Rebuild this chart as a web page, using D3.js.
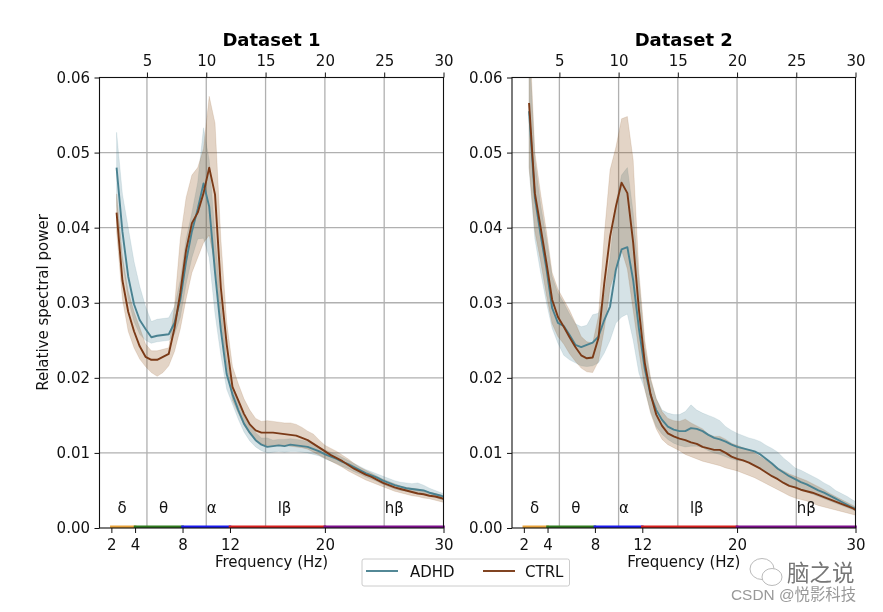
<!DOCTYPE html>
<html><head><meta charset="utf-8">
<script src="https://cdn.jsdelivr.net/npm/d3@7"></script>
<style>html,body{margin:0;padding:0;background:#fff}svg{display:block;font-family:"DejaVu Sans",sans-serif;filter:blur(0.35px)}</style>
</head><body><svg id="c" width="883" height="612"></svg>
<script>
const freqs=[2.44,2.93,3.42,3.91,4.39,4.88,5.37,5.86,6.35,6.84,7.32,7.81,8.30,8.79,9.28,9.77,10.25,10.74,11.23,11.72,12.21,12.70,13.18,13.67,14.16,14.65,15.14,15.63,16.11,16.60,17.09,17.58,18.07,18.55,19.04,19.53,20.02,20.51,21.00,21.48,21.97,22.46,22.95,23.44,23.93,24.41,24.90,25.39,25.88,26.37,26.86,27.34,27.83,28.32,28.81,29.30,29.79,30.27];
const d1AdhdMean=[.0480,.0395,.0335,.0298,.0277,.0265,.0254,.0256,.0257,.0258,.0273,.0304,.0355,.0395,.0425,.0459,.0428,.0340,.0264,.0205,.0178,.0157,.0139,.0127,.0117,.0111,.0108,.0109,.0110,.0109,.0111,.0110,.0109,.0108,.0105,.0102,.0098,.0095,.0092,.0088,.0085,.0081,.0077,.0073,.0070,.0067,.0063,.0060,.0057,.0055,.0053,.0052,.0051,.0050,.0047,.0045,.0043,.0040];
const d1AdhdUpper=[.0527,.0445,.0400,.0355,.0322,.0295,.0275,.0278,.0279,.0280,.0295,.0330,.0385,.0420,.0460,.0533,.0490,.0390,.0300,.0225,.0190,.0170,.0150,.0137,.0127,.0120,.0120,.0117,.0118,.0118,.0119,.0118,.0117,.0115,.0112,.0108,.0104,.0101,.0098,.0094,.0090,.0086,.0082,.0078,.0075,.0072,.0069,.0066,.0063,.0061,.0060,.0059,.0060,.0057,.0053,.0050,.0047,.0044];
const d1AdhdLower=[.0430,.0355,.0305,.0275,.0258,.0250,.0246,.0248,.0249,.0250,.0258,.0280,.0325,.0360,.0385,.0386,.0360,.0285,.0230,.0185,.0165,.0145,.0128,.0116,.0108,.0103,.0100,.0101,.0102,.0101,.0102,.0102,.0101,.0100,.0098,.0096,.0092,.0089,.0086,.0082,.0079,.0075,.0072,.0068,.0065,.0062,.0058,.0055,.0052,.0050,.0049,.0048,.0046,.0045,.0043,.0041,.0038,.0036];
const d1CtrlMean=[.0420,.0330,.0288,.0262,.0242,.0228,.0224,.0224,.0228,.0232,.0266,.0313,.0370,.0406,.0420,.0446,.0480,.0444,.0320,.0245,.0188,.0170,.0152,.0138,.0130,.0127,.0127,.0127,.0126,.0125,.0124,.0123,.0120,.0117,.0112,.0107,.0102,.0097,.0093,.0089,.0084,.0079,.0075,.0071,.0068,.0064,.0060,.0057,.0054,.0052,.0050,.0048,.0046,.0045,.0043,.0042,.0040,.0037];
const d1CtrlUpper=[.0445,.0362,.0315,.0288,.0267,.0245,.0236,.0236,.0238,.0240,.0295,.0385,.0440,.0470,.0480,.0505,.0575,.0539,.0385,.0275,.0215,.0192,.0172,.0157,.0146,.0142,.0143,.0142,.0141,.0140,.0140,.0138,.0134,.0129,.0125,.0117,.0110,.0106,.0102,.0097,.0092,.0086,.0081,.0077,.0073,.0069,.0065,.0062,.0059,.0056,.0054,.0053,.0052,.0050,.0048,.0046,.0044,.0040];
const d1CtrlLower=[.0395,.0305,.0262,.0240,.0225,.0215,.0207,.0202,.0207,.0216,.0235,.0265,.0305,.0340,.0360,.0380,.0390,.0350,.0270,.0215,.0170,.0153,.0137,.0125,.0118,.0112,.0110,.0110,.0110,.0110,.0109,.0108,.0107,.0105,.0101,.0097,.0093,.0089,.0085,.0081,.0076,.0072,.0068,.0064,.0061,.0058,.0055,.0052,.0049,.0047,.0045,.0043,.0042,.0040,.0039,.0037,.0035,.0033];
const d2AdhdMean=[.0555,.0440,.0390,.0345,.0293,.0273,.0269,.0257,.0244,.0241,.0244,.0247,.0255,.0277,.0295,.0344,.0371,.0374,.0330,.0265,.0212,.0177,.0157,.0144,.0135,.0131,.0129,.0129,.0133,.0132,.0129,.0124,.0120,.0118,.0115,.0111,.0108,.0106,.0104,.0102,.0098,.0092,.0086,.0079,.0074,.0069,.0065,.0061,.0058,.0054,.0050,.0047,.0043,.0039,.0035,.0031,.0027,.0024];
const d2AdhdUpper=[.0650,.0490,.0430,.0385,.0335,.0313,.0300,.0285,.0272,.0268,.0270,.0284,.0286,.0310,.0360,.0433,.0470,.0480,.0420,.0330,.0240,.0197,.0172,.0157,.0153,.0151,.0151,.0155,.0164,.0157,.0153,.0150,.0147,.0143,.0135,.0130,.0126,.0123,.0120,.0118,.0115,.0110,.0106,.0101,.0093,.0087,.0080,.0077,.0073,.0069,.0065,.0060,.0056,.0050,.0046,.0042,.0037,.0033];
const d2AdhdLower=[.0480,.0385,.0340,.0300,.0266,.0246,.0230,.0224,.0220,.0216,.0215,.0216,.0220,.0233,.0250,.0273,.0281,.0285,.0250,.0206,.0185,.0155,.0135,.0125,.0118,.0113,.0110,.0108,.0109,.0109,.0107,.0103,.0100,.0098,.0095,.0092,.0090,.0089,.0087,.0083,.0079,.0074,.0070,.0065,.0061,.0056,.0053,.0050,.0048,.0045,.0042,.0039,.0036,.0033,.0030,.0027,.0024,.0021];
const d2CtrlMean=[.0566,.0446,.0400,.0353,.0304,.0281,.0268,.0254,.0241,.0230,.0226,.0227,.0253,.0326,.0388,.0428,.0460,.0446,.0380,.0290,.0220,.0178,.0151,.0136,.0126,.0122,.0119,.0117,.0114,.0112,.0108,.0106,.0104,.0104,.0100,.0095,.0092,.0090,.0087,.0083,.0079,.0074,.0069,.0065,.0060,.0056,.0054,.0051,.0049,.0047,.0044,.0041,.0038,.0035,.0032,.0029,.0026,.0022];
const d2CtrlUpper=[.0670,.0500,.0445,.0395,.0340,.0318,.0304,.0290,.0273,.0255,.0248,.0246,.0282,.0390,.0477,.0507,.0545,.0548,.0490,.0340,.0250,.0200,.0172,.0155,.0146,.0143,.0142,.0145,.0140,.0136,.0132,.0125,.0122,.0122,.0118,.0113,.0110,.0107,.0104,.0100,.0095,.0090,.0085,.0080,.0076,.0072,.0069,.0066,.0063,.0059,.0055,.0051,.0046,.0042,.0038,.0034,.0030,.0026];
const d2CtrlLower=[.0480,.0395,.0355,.0310,.0272,.0255,.0245,.0232,.0222,.0213,.0208,.0207,.0222,.0265,.0320,.0345,.0370,.0345,.0290,.0235,.0185,.0153,.0132,.0118,.0111,.0107,.0103,.0098,.0095,.0092,.0089,.0087,.0085,.0083,.0080,.0078,.0076,.0073,.0070,.0067,.0063,.0059,.0055,.0051,.0047,.0043,.0040,.0038,.0036,.0033,.0030,.0028,.0026,.0024,.0022,.0020,.0018,.0016];
const bandStarts=[2,4,8,12,20];
const bandEnds=[4,8,12,20,30];
const bandColors=["#e8a33a","#2f7a1e","#1a1aee","#d8201f","#7d0f8c"];
const bandLabels=["δ","θ","α","lβ","hβ"];
const bandLabelFreqs=[2.9,6.4,10.45,16.6,25.85];
const topTicks=[5,10,15,20,25,30];
const bottomTicks=[2,4,8,12,20,30];
const yTicks=[0,.01,.02,.03,.04,.05,.06];
const titles=["Dataset 1","Dataset 2"];
const seriesNames=["ADHD","CTRL"];
const seriesColors=["#4a8291","#7b3a17"];
const seriesFills=["#4a8291","#86440a"];
const panelsLeft=[99.5,512];
const panelsRight=[443.5,855.5];

const svg=d3.select("#c");
svg.append("rect").attr("width",883).attr("height",612).attr("fill","#fff");
const panels=[
 [[d1AdhdMean,d1AdhdUpper,d1AdhdLower],[d1CtrlMean,d1CtrlUpper,d1CtrlLower]],
 [[d2AdhdMean,d2AdhdUpper,d2AdhdLower],[d2CtrlMean,d2CtrlUpper,d2CtrlLower]]
];
const plotTop=77.5,plotBottom=528;
const defs=svg.append("defs");
panels.forEach((series,pi)=>{
  const x=d3.scaleLinear().domain([1,30]).range([panelsLeft[pi],panelsRight[pi]]);
  const y=d3.scaleLinear().domain([0,.06]).range([plotBottom,plotTop]);
  const g=svg.append("g");
  const styleAxis=a=>{
    a.selectAll("text").attr("font-size",15).attr("fill","#111").attr("font-family",'"DejaVu Sans"');
    a.selectAll("line").attr("stroke","#111").attr("stroke-width",1);
    a.select(".domain").remove();
  };
  g.append("g").selectAll("line").data(topTicks.slice(0,5)).join("line")
    .attr("x1",d=>x(d)).attr("x2",d=>x(d)).attr("y1",plotTop).attr("y2",plotBottom)
    .attr("stroke","#b0b0b0").attr("stroke-width",1.3);
  g.append("g").selectAll("line").data(yTicks.slice(1,6)).join("line")
    .attr("x1",panelsLeft[pi]).attr("x2",panelsRight[pi]).attr("y1",d=>y(d)).attr("y2",d=>y(d))
    .attr("stroke","#b0b0b0").attr("stroke-width",1.3);
  const cid="clip"+pi;
  defs.append("clipPath").attr("id",cid).append("rect")
    .attr("x",panelsLeft[pi]).attr("y",plotTop).attr("width",panelsRight[pi]-panelsLeft[pi]).attr("height",plotBottom-plotTop);
  const marks=g.append("g").attr("clip-path",`url(#${cid})`);
  series.forEach((s,si)=>{
    const [mean,upper,lower]=s;
    const idx=d3.range(freqs.length);
    const area=d3.area().x(i=>x(freqs[i])).y0(i=>y(lower[i])).y1(i=>y(upper[i]));
    marks.append("path").attr("d",area(idx)).attr("fill",seriesFills[si]).attr("fill-opacity",.23)
      .attr("stroke",seriesFills[si]).attr("stroke-opacity",.12).attr("stroke-width",1);
  });
  series.forEach((s,si)=>{
    const mean=s[0];
    const line=d3.line().x(i=>x(freqs[i])).y(i=>y(mean[i]));
    marks.append("path").attr("d",line(d3.range(freqs.length))).attr("fill","none")
      .attr("stroke",seriesColors[si]).attr("stroke-width",1.9).attr("stroke-linejoin","round");
  });
  g.append("g").selectAll("line").data(d3.range(bandStarts.length)).join("line")
    .attr("x1",i=>x(bandStarts[i])).attr("x2",i=>x(bandEnds[i]))
    .attr("y1",plotBottom-1.2).attr("y2",plotBottom-1.2)
    .attr("stroke",i=>bandColors[i]).attr("stroke-width",2.6).attr("stroke-linecap","square");
  g.append("g").selectAll("text").data(d3.range(bandLabels.length)).join("text")
    .attr("x",i=>x(bandLabelFreqs[i])).attr("y",y(0)-15).attr("text-anchor","middle")
    .attr("font-size",15).attr("fill","#111").text(i=>bandLabels[i]);
  const ax=g.append("g").attr("transform",`translate(0,${plotTop})`)
    .call(d3.axisTop(x).tickValues(topTicks).tickSize(5).tickPadding(7).tickFormat(d3.format("d")));
  styleAxis(ax);
  const bx=g.append("g").attr("transform",`translate(0,${plotBottom})`)
    .call(d3.axisBottom(x).tickValues(bottomTicks).tickSize(5).tickPadding(6).tickFormat(d3.format("d")));
  styleAxis(bx);
  const ly=g.append("g").attr("transform",`translate(${panelsLeft[pi]},0)`)
    .call(d3.axisLeft(y).tickValues(yTicks).tickSize(5).tickPadding(4.5).tickFormat(d3.format(".2f")));
  styleAxis(ly);
  g.append("rect").attr("x",panelsLeft[pi]).attr("y",plotTop).attr("width",panelsRight[pi]-panelsLeft[pi]).attr("height",plotBottom-plotTop)
    .attr("fill","none").attr("stroke","#111").attr("stroke-width",1.1);
  const cx=(panelsLeft[pi]+panelsRight[pi])/2;
  g.append("text").attr("x",cx).attr("y",45.5).attr("text-anchor","middle").attr("font-size",18)
    .attr("font-weight","bold").attr("fill","#000").text(titles[pi]);
  g.append("text").attr("x",cx).attr("y",567).attr("text-anchor","middle").attr("font-size",15)
    .attr("fill","#111").text("Frequency (Hz)");
});
svg.append("text").attr("transform","translate(48,302.5) rotate(-90)").attr("text-anchor","middle")
  .attr("font-size",15).attr("fill","#111").text("Relative spectral power");
const lg=svg.append("g");
lg.append("rect").attr("x",362).attr("y",559).attr("width",207.5).attr("height",27).attr("rx",2)
  .attr("fill","#fff").attr("stroke","#ccc").attr("stroke-width",1);
const legX=[366,483],legT=[410,525];
seriesNames.forEach((n,i)=>{
  lg.append("line").attr("x1",legX[i]).attr("x2",legX[i]+32).attr("y1",571).attr("y2",571)
    .attr("stroke",seriesColors[i]).attr("stroke-width",1.9);
  lg.append("text").attr("x",legT[i]).attr("y",577).attr("font-size",15).attr("fill","#111").text(n);
});
const wm=svg.append("g");
wm.append("ellipse").attr("cx",762).attr("cy",569).attr("rx",12).attr("ry",10.5).attr("fill","#fff").attr("stroke","#bbb");
wm.append("ellipse").attr("cx",772).attr("cy",577).attr("rx",10).attr("ry",8.5).attr("fill","#fff").attr("stroke","#bbb");
wm.append("text").attr("x",787).attr("y",581).attr("font-size",22.5).attr("fill","#777").attr("font-family",'"Noto Sans CJK SC"').text("脑之说");
wm.append("text").attr("x",731).attr("y",600).attr("font-size",15.4).attr("fill","#999").attr("font-family",'"Liberation Sans","Noto Sans CJK SC"').text("CSDN @悦影科技");
</script></body></html>
